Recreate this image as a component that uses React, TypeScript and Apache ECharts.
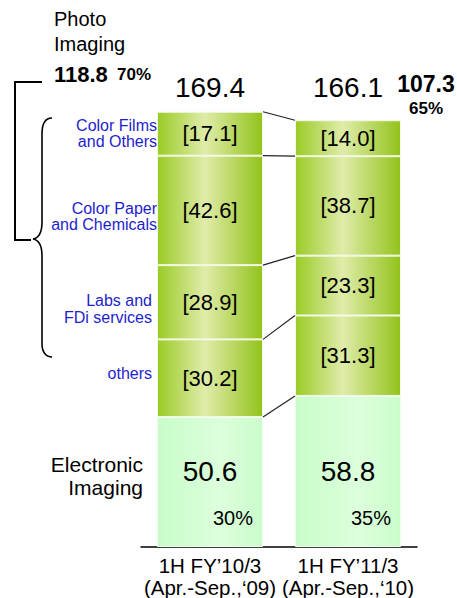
import React, { useEffect, useRef } from "react";
import * as echarts from "echarts";

const categories = ["1H FY’10/3\n(Apr.-Sep.,‘09)", "1H FY’11/3\n(Apr.-Sep.,‘10)"];
const electronic = [50.6, 58.8];
const others = [30.2, 31.3];
const labs = [28.9, 23.3];
const paper = [42.6, 38.7];
const films = [17.1, 14.0];
const totals = [169.4, 166.1];
const electronicShare = ["30%", "35%"];
const photoTotals = ["118.8", "107.3"];
const photoShare = ["70%", "65%"];

const BAR_W = 106;
const FONT = "'Liberation Sans', Arial, sans-serif";
const BRACE_D =
  "M52,118 C46,118 42,123 42,134 L42,222 C42,232 39,238 33,239 C39,240 42,246 42,256 L42,344 C42,352 46,357 52,357";

echarts.graphic.registerShape("brace", echarts.graphic.extendPath(BRACE_D, {}));

const photoFill = new echarts.graphic.LinearGradient(0, 0, 1, 0, [
  { offset: 0, color: "#9acb26" },
  { offset: 0.45, color: "#e0ecaa" },
  { offset: 1, color: "#92c31a" },
]);
const elecFill = new echarts.graphic.LinearGradient(0, 0, 1, 0, [
  { offset: 0, color: "#c9fcc9" },
  { offset: 0.6, color: "#dcffdc" },
  { offset: 1, color: "#cbfccb" },
]);

export default function App() {
  const ref = useRef<HTMLDivElement>(null);
  useEffect(() => {
    const chart = echarts.init(ref.current!, null, { renderer: "svg" });
    const stacks = [electronic, others, labs, paper, films];
    const bounds: number[][] = [];
    let s0 = 0;
    let s1 = 0;
    stacks.forEach((arr) => {
      s0 += arr[0];
      s1 += arr[1];
      bounds.push([0, s0, s1]);
    });

    const photoSeries = (name: string, data: number[]) => ({
      name,
      type: "bar",
      stack: "all",
      barWidth: BAR_W,
      data,
      itemStyle: { color: photoFill, borderColor: "#f3f8e2", borderWidth: 1 },
      label: {
        show: true,
        position: "inside",
        formatter: (p: any) => `[${Number(p.value).toFixed(1)}]`,
        fontSize: 22,
        fontFamily: FONT,
        color: "#000",
      },
    });

    const blue = "#1e1ecc";
    const txt = (text: string, x: number, y: number, o: any = {}) => ({
      type: "text",
      x,
      y,
      style: {
        text,
        fontFamily: FONT,
        fontSize: 16,
        fill: "#000",
        align: "left",
        verticalAlign: "middle",
        ...o,
      },
    });

    chart.setOption({
      animation: false,
      grid: { left: 141, right: 40, top: 84.5, bottom: 48 },
      xAxis: {
        type: "category",
        data: categories,
        axisLine: { lineStyle: { color: "#000", width: 1.5 } },
        axisTick: { show: false },
        axisLabel: {
          interval: 0,
          hideOverlap: false,
          fontSize: 20.5,
          lineHeight: 22,
          margin: 7,
          color: "#000",
          fontFamily: FONT,
        },
      },
      yAxis: { type: "value", min: 0, max: 180, show: false, splitLine: { show: false } },
      series: [
        {
          name: "Electronic Imaging",
          type: "bar",
          stack: "all",
          barWidth: BAR_W,
          data: electronic,
          itemStyle: { color: elecFill, borderColor: "#eeffee", borderWidth: 1 },
          label: {
            show: true,
            position: "insideBottom",
            distance: 17,
            formatter: (p: any) =>
              `{a|${Number(p.value).toFixed(1)}}\n{s|}\n{b|${electronicShare[p.dataIndex]}}`,
            rich: {
              a: { fontSize: 28, lineHeight: 30, fontFamily: FONT, color: "#000" },
              s: { lineHeight: 20 },
              b: { fontSize: 20, lineHeight: 24, fontFamily: FONT, color: "#000", padding: [0, 0, 0, 46] },
            },
          },
        },
        photoSeries("others", others),
        photoSeries("Labs and FDi services", labs),
        photoSeries("Color Paper and Chemicals", paper),
        photoSeries("Color Films and Others", films),
        {
          type: "custom",
          name: "connectors",
          clip: false,
          encode: { x: 0, y: [1, 2] },
          data: bounds,
          renderItem: (_p: any, api: any) => {
            const a = api.coord([0, api.value(1)]);
            const b = api.coord([1, api.value(2)]);
            return {
              type: "line",
              shape: { x1: a[0] + BAR_W / 2, y1: a[1], x2: b[0] - BAR_W / 2, y2: b[1] },
              style: { stroke: "#222", lineWidth: 1.2 },
            };
          },
          z: 5,
        },
        {
          type: "scatter",
          name: "totals",
          symbolSize: 0,
          itemStyle: { opacity: 1 },
          data: totals.map((_t, i) => ({ value: [i, 179] })),
          label: {
            show: true,
            position: "inside",
            formatter: (p: any) => totals[p.dataIndex].toFixed(1),
            fontSize: 28,
            fontFamily: FONT,
            color: "#000",
            opacity: 1,
          },
        },
      ],
      graphic: [
        {
          type: "polyline",
          shape: { points: [[42, 82], [15, 82], [15, 240], [31, 240]] },
          style: { stroke: "#000", lineWidth: 2, fill: "none" },
        },
        { type: "brace", x: 0, y: 0, style: { stroke: "#000", lineWidth: 1.6, fill: "none" } },
        txt("Photo", 54, 19, { fontSize: 20 }),
        txt("Imaging", 54, 44, { fontSize: 20 }),
        txt(photoTotals[0], 54, 74, { fontSize: 22, fontWeight: "bold" }),
        txt(photoShare[0], 117, 74, { fontSize: 17, fontWeight: "bold" }),
        txt(photoTotals[1], 426, 84, { fontSize: 23, fontWeight: "bold", align: "center" }),
        txt(photoShare[1], 426, 108, { fontSize: 17, fontWeight: "bold", align: "center" }),
        txt("Color Films", 157, 125, { fill: blue, align: "right" }),
        txt("and Others", 157, 141, { fill: blue, align: "right" }),
        txt("Color Paper", 157, 208, { fill: blue, align: "right" }),
        txt("and Chemicals", 157, 224, { fill: blue, align: "right" }),
        txt("Labs and", 152, 300, { fill: blue, align: "right" }),
        txt("FDi services", 152, 317, { fill: blue, align: "right" }),
        txt("others", 152, 373, { fill: blue, align: "right" }),
        txt("Electronic", 143, 464, { fontSize: 21, align: "right" }),
        txt("Imaging", 143, 487, { fontSize: 21, align: "right" }),
      ],
    });
    return () => chart.dispose();
  }, []);
  return (
    <div
      ref={ref}
      style={{ position: "fixed", left: 0, top: 0, width: 457, height: 598, background: "#fff" }}
    />
  );
}
